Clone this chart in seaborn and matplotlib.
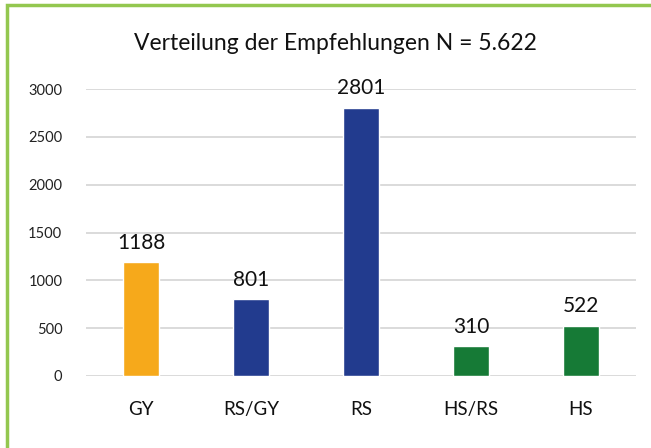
import matplotlib
matplotlib.use("Agg")
import matplotlib.pyplot as plt
from matplotlib.patches import Rectangle
import pandas as pd
import seaborn as sns

# data
categories = ["GY", "RS/GY", "RS", "HS/RS", "HS"]
counts = [1188, 801, 2801, 310, 522]
bar_colors = ["#F6A91B", "#223B8E", "#223B8E", "#167A36", "#167A36"]
title = "Verteilung der Empfehlungen N = 5.622"

df = pd.DataFrame({"kat": categories, "n": counts})

sns.set_theme(style="white")
plt.rcParams["font.family"] = ["Lato", "DejaVu Sans"]

fig = plt.figure(figsize=(6.51, 4.48), dpi=100)
ax = fig.add_axes([0.132, 0.161, 0.845, 0.640])

sns.barplot(data=df, x="kat", y="n", hue="kat", palette=bar_colors,
            legend=False, width=0.32, ax=ax, saturation=1)

for c in ax.containers:
    ax.bar_label(c, padding=7, fontsize=15, color="#111111", clip_on=False)

ax.set_ylim(0, 3000)
ax.set_yticks(range(0, 3001, 500))
ax.set_xlim(-0.5, 4.5)
ax.grid(axis="y", color="#d4d4d4", linewidth=1.2)
ax.set_axisbelow(True)
for s in ax.spines.values():
    s.set_visible(False)
ax.tick_params(axis="y", length=0, pad=17, labelsize=10.5, labelcolor="#222222")
ax.tick_params(axis="x", length=0, pad=18, labelsize=13.5, labelcolor="#111111")
ax.set_xlabel("")
ax.set_ylabel("")

fig.text(0.515, 0.904, title, ha="center", va="center", fontsize=16.5, color="#111111")

# green frame (top and left edge visible)
fig.patches.append(Rectangle((0.011, -0.2), 1.2, 1.189, transform=fig.transFigure,
                             fill=False, edgecolor="#93C74F", linewidth=2.5))

fig.savefig("out.png", dpi=100)
